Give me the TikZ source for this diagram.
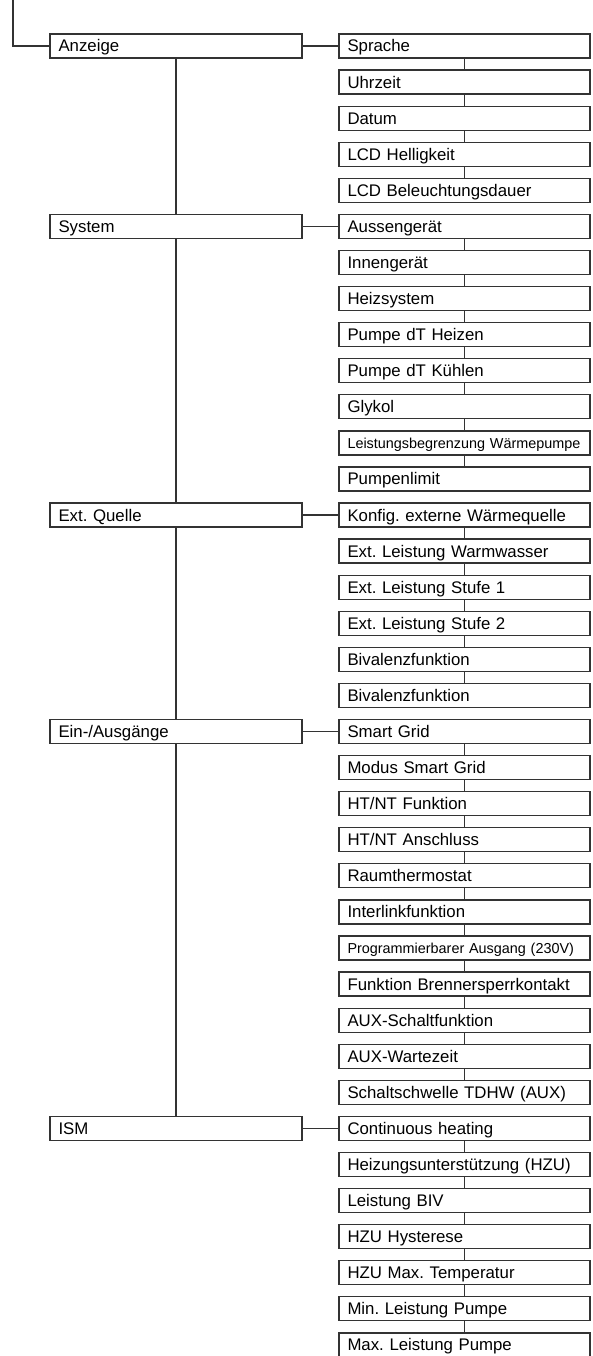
\documentclass[tikz,border=0pt]{standalone}
\usepackage{fontspec}
\setmainfont{Liberation Sans}
\usepackage{xcolor}
\usepackage{tikz}
\usetikzlibrary{positioning}
\frenchspacing

\begin{document}
\begin{tikzpicture}[x=1pt, y=1pt, node distance=12.08pt,
        item/.style={draw=black!80, line width=1.25pt, anchor=north west, outer sep=0pt,
            minimum width=251pt, minimum height=24pt, text width=234pt,
            text height=12pt, text depth=0pt,
            inner xsep=8.5pt, inner ysep=0pt, align=left,
            font=\fontsize{16.8}{18}\selectfont},
        small/.style={font=\fontsize{14.4}{16}\selectfont, text height=10.3pt},
        menu/.style={item, minimum width=252pt, text width=235pt},
        link/.style={draw=black!80, line width=1.15pt}]
        \useasboundingbox (0,0) rectangle (592,-1356);

        % Anzeige
        \node[item] (sprache) at (339,-34) {Sprache};
        \node[item, below=of sprache] (uhrzeit) {Uhrzeit};
        \node[item, below=of uhrzeit] (datum) {Datum};
        \node[item, below=of datum] (lcdhell) {LCD Helligkeit};
        \node[item, below=of lcdhell] (lcddauer) {LCD Beleuchtungsdauer};

        % System
        \node[item, below=of lcddauer] (aussen) {Aussengerät};
        \node[item, below=of aussen] (innen) {Innengerät};
        \node[item, below=of innen] (heizsys) {Heizsystem};
        \node[item, below=of heizsys] (dtheiz) {Pumpe dT Heizen};
        \node[item, below=of dtheiz] (dtkuehl) {Pumpe dT Kühlen};
        \node[item, below=of dtkuehl] (glykol) {Glykol};
        \node[item, small, below=of glykol] (leistbegr) {Leistungsbegrenzung Wärmepumpe};
        \node[item, below=of leistbegr] (pumplim) {Pumpenlimit};

        % Ext. Quelle
        \node[item, below=of pumplim] (konfig) {Konfig. externe Wärmequelle};
        \node[item, below=of konfig] (extww) {Ext. Leistung Warmwasser};
        \node[item, below=of extww] (extst1) {Ext. Leistung Stufe 1};
        \node[item, below=of extst1] (extst2) {Ext. Leistung Stufe 2};
        \node[item, below=of extst2] (biva) {Bivalenzfunktion};
        \node[item, below=of biva] (bivb) {Bivalenzfunktion};

        % Ein-/Ausgaenge
        \node[item, below=of bivb] (sg) {Smart Grid};
        \node[item, below=of sg] (sgmod) {Modus Smart Grid};
        \node[item, below=of sgmod] (htnt) {HT/NT Funktion};
        \node[item, below=of htnt] (htntan) {HT/NT Anschluss};
        \node[item, below=of htntan] (raum) {Raumthermostat};
        \node[item, below=of raum] (interlink) {Interlinkfunktion};
        \node[item, small, below=of interlink] (progaus) {Programmierbarer Ausgang (230V)};
        \node[item, below=of progaus] (brenner) {Funktion Brennersperrkontakt};
        \node[item, below=of brenner] (auxschalt) {AUX-Schaltfunktion};
        \node[item, below=of auxschalt] (auxwarte) {AUX-Wartezeit};
        \node[item, below=of auxwarte] (tdhw) {Schaltschwelle TDHW (AUX)};

        % ISM
        \node[item, below=of tdhw] (cont) {Continuous heating};
        \node[item, below=of cont] (hzu) {Heizungsunterstützung (HZU)};
        \node[item, below=of hzu] (biv) {Leistung BIV};
        \node[item, below=of biv] (hzuhyst) {HZU Hysterese};
        \node[item, below=of hzuhyst] (hzumax) {HZU Max. Temperatur};
        \node[item, below=of hzumax] (minpump) {Min. Leistung Pumpe};
        \node[item, below=of minpump] (maxpump) {Max. Leistung Pumpe};

        % Main menu
        \node[menu, left=37pt of sprache] (anzeige) {Anzeige};
        \node[menu, left=37pt of aussen] (system) {System};
        \node[menu, left=37pt of konfig] (quelle) {Ext. Quelle};
        \node[menu, left=37pt of sg] (einaus) {Ein-/Ausgänge};
        \node[menu, left=37pt of cont] (ism) {ISM};

        % Root line
        \coordinate (root) at (13,0);
        \draw[link] (root) |- (anzeige.west);

        % Main menu chain
        \draw[link] (anzeige) -- (system);
        \draw[link] (system) -- (quelle);
        \draw[link] (quelle) -- (einaus);
        \draw[link] (einaus) -- (ism);

        % Submenu links
        \draw[link] (anzeige) -- (sprache);
        \draw[link] (system) -- (aussen);
        \draw[link] (quelle) -- (konfig);
        \draw[link] (einaus) -- (sg);
        \draw[link] (ism) -- (cont);

        % Submenu chains
        \draw[link] (sprache) -- (uhrzeit) (uhrzeit) -- (datum)
            (datum) -- (lcdhell) (lcdhell) -- (lcddauer);
        \draw[link] (aussen) -- (innen) (innen) -- (heizsys)
            (heizsys) -- (dtheiz) (dtheiz) -- (dtkuehl) (dtkuehl) -- (glykol)
            (glykol) -- (leistbegr) (leistbegr) -- (pumplim);
        \draw[link] (konfig) -- (extww) (extww) -- (extst1)
            (extst1) -- (extst2) (extst2) -- (biva) (biva) -- (bivb);
        \draw[link] (sg) -- (sgmod) (sgmod) -- (htnt) (htnt) -- (htntan)
            (htntan) -- (raum) (raum) -- (interlink) (interlink) -- (progaus)
            (progaus) -- (brenner) (brenner) -- (auxschalt)
            (auxschalt) -- (auxwarte) (auxwarte) -- (tdhw);
        \draw[link] (cont) -- (hzu) (hzu) -- (biv) (biv) -- (hzuhyst)
            (hzuhyst) -- (hzumax) (hzumax) -- (minpump) (minpump) -- (maxpump);
    \end{tikzpicture}
\end{document}
